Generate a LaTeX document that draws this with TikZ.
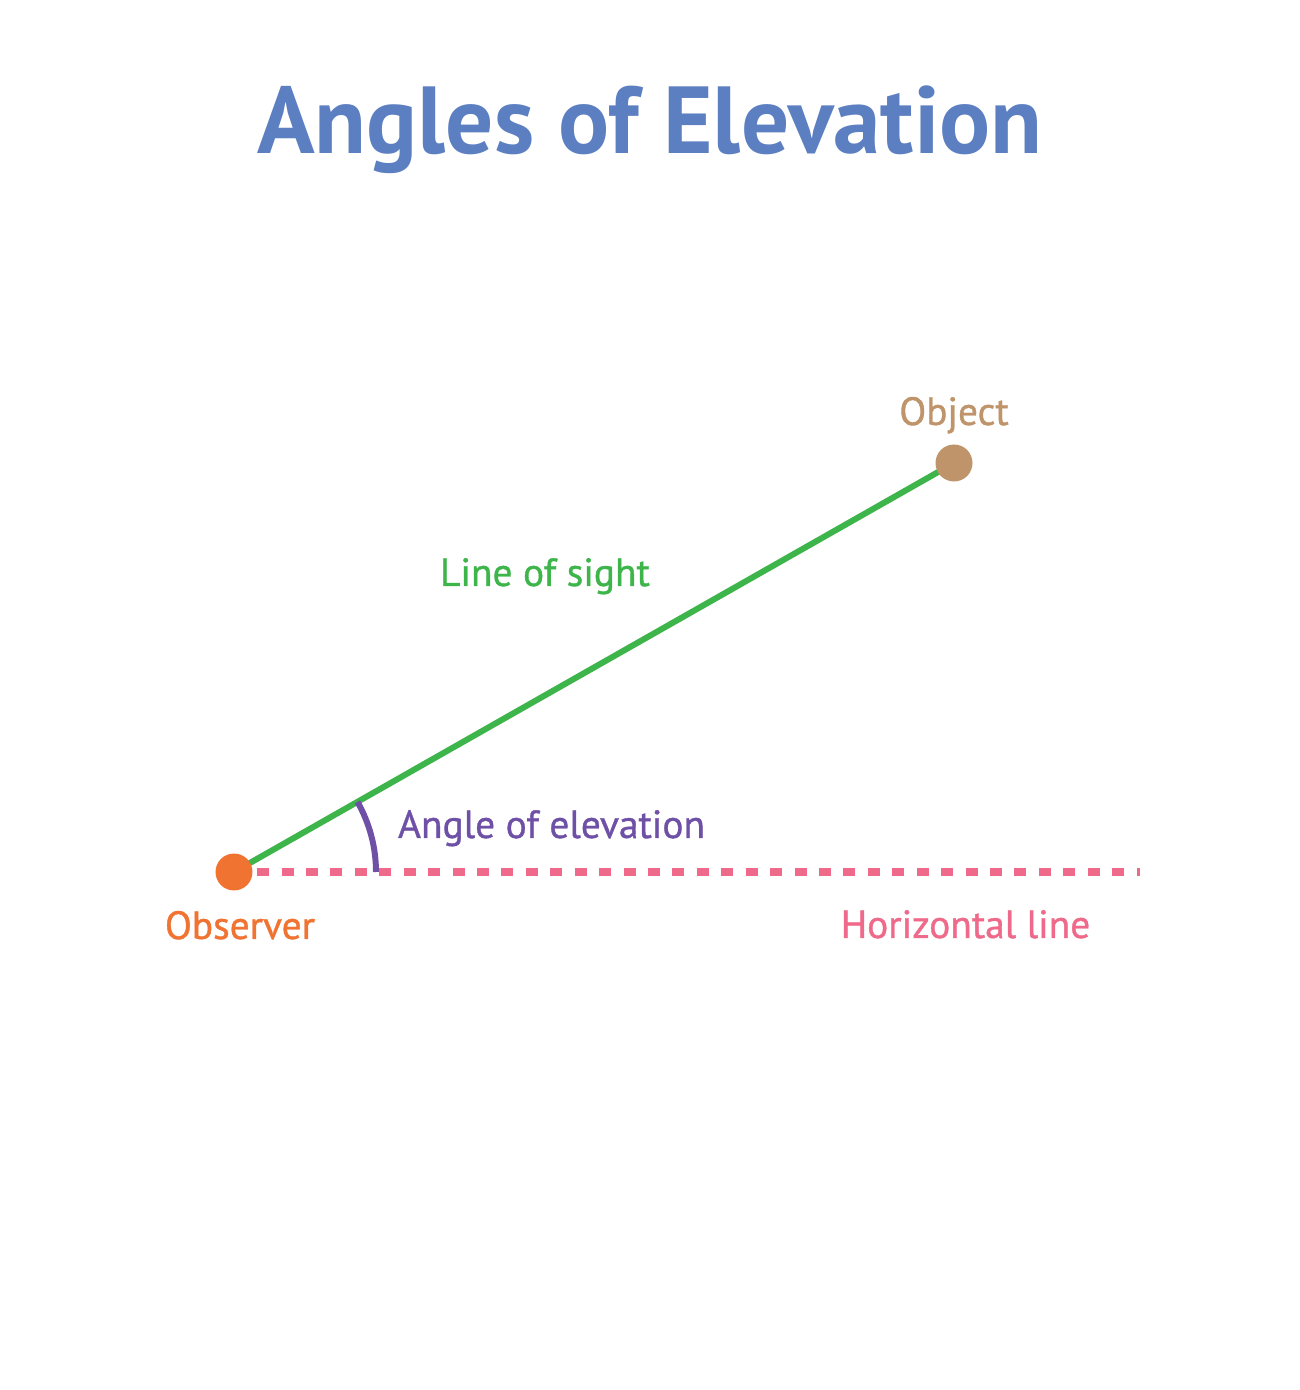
\documentclass[tikz,border=0pt]{standalone}
\usepackage{fontspec}
\setmainfont{PT Sans}
\newfontfamily\lblfont[FakeBold=0.9]{PT Sans}
\usepackage{tikz}
\usetikzlibrary{calc}

\definecolor{titleblue}{RGB}{91,127,193}
\definecolor{sightgreen}{RGB}{61,181,74}
\definecolor{objbrown}{RGB}{191,148,106}
\definecolor{obsorange}{RGB}{240,115,50}
\definecolor{anglepurple}{RGB}{110,80,166}
\definecolor{horizpink}{RGB}{239,106,138}

\tikzset{
	dot/.style={circle, inner sep=0pt, minimum size=0.37cm},
	lbl/.style={anchor=base, inner sep=0pt, font=\lblfont\fontsize{11.2}{13}\selectfont},
}

\begin{document}
\begin{tikzpicture}
			%%%%% START %%%%%
			
			\useasboundingbox[fill=white] (0, 0) rectangle (13, 13.9);
			
			\node[anchor=base, inner sep=0pt, color=titleblue, font=\fontsize{27.1}{32}\bfseries] (title) at (6.5, 12.36) {Angles of Elevation};
			
			\coordinate (hend) at (11.40, 5.18);
			\path (2.34, 5.18) node[dot] (observer) {};
			\path (9.54, 9.27) node[dot] (object) {};
			
			\draw[line width=2pt, color=horizpink, dash pattern=on 3.4pt off 3.55pt] ($(observer.east)+(0.04,0)$) -- (hend);
			\draw[line width=1.7pt, color=sightgreen] (observer.center) -- (object.center);
			\draw[line width=1.7pt, color=anglepurple] ($(observer.center)+(1.42,0)$) arc (0:29.6:1.42);
			
			\fill[obsorange] (observer) circle (0.185);
			\fill[objbrown] (object) circle (0.185);
			
			\node[lbl, color=objbrown] (objlbl) at (9.54, 9.65) {Object};
			\node[lbl, color=sightgreen] (sightlbl) at (5.45, 8.04) {Line of sight};
			\node[lbl, color=anglepurple] (anglelbl) at (5.515, 5.52) {Angle of elevation};
			\node[lbl, color=obsorange] (obslbl) at (2.40, 4.51) {Observer};
			\node[lbl, color=horizpink] (horizlbl) at (9.655, 4.52) {Horizontal line};
			
			%%%%% END %%%%%
\end{tikzpicture}
\end{document}
